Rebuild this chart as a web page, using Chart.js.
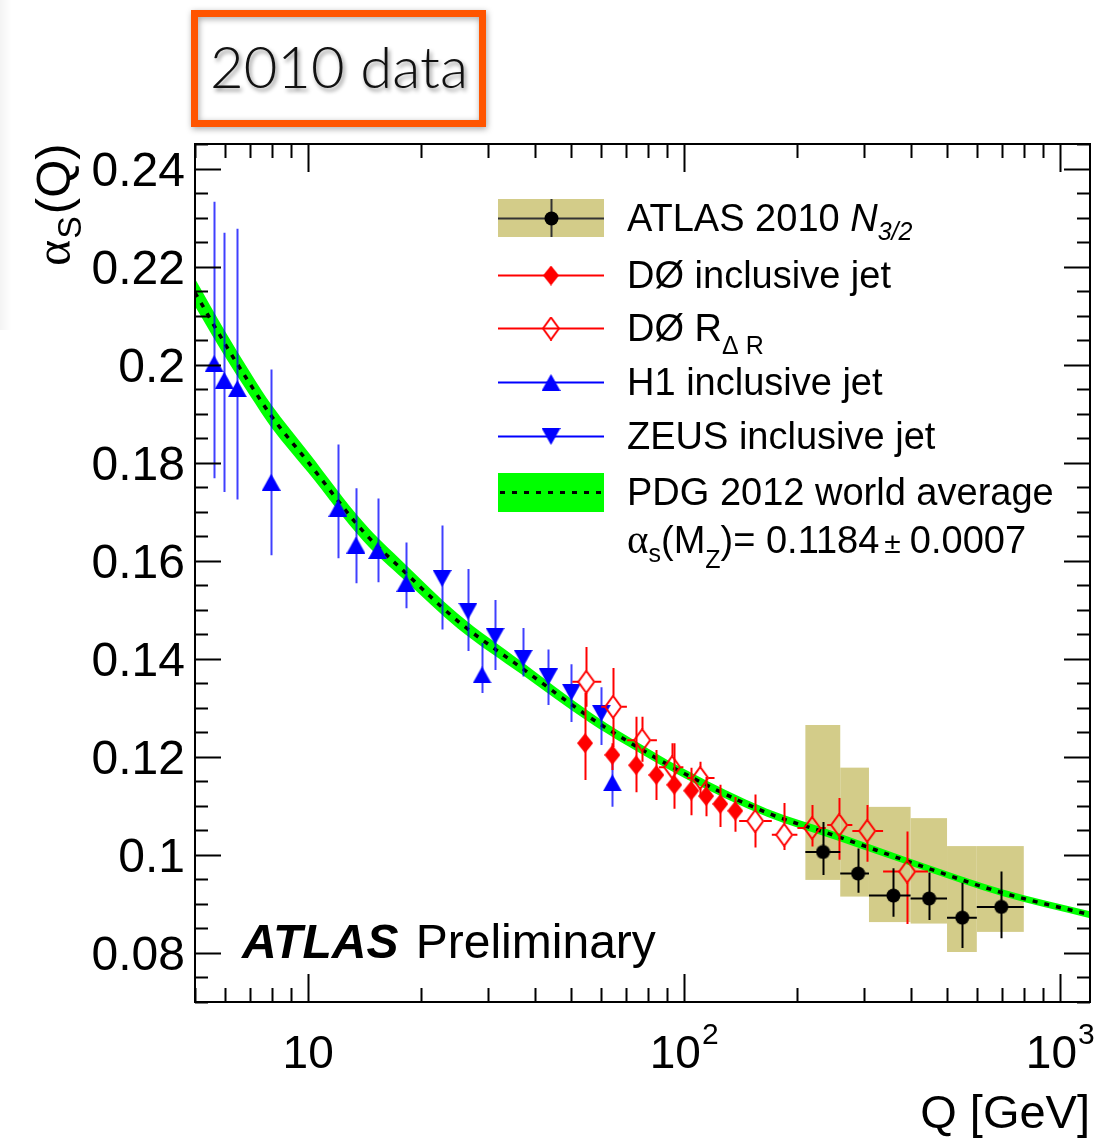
<!DOCTYPE html>
<html>
<head>
<meta charset="utf-8">
<title>alpha_s running</title>
<script src="https://cdn.jsdelivr.net/npm/chart.js@4.4.1/dist/chart.umd.min.js"></script>
<style>
  html, body { margin: 0; padding: 0; background: #fff; }
  canvas { display: block; }
</style>
</head>
<body>
<canvas id="alphas" width="1106" height="1138"></canvas>
<script>
// ATLAS 2010 N3/2 (bins, values, stat and syst extents)
var atlasQ = [234, 290, 360, 448, 549, 697]
var atlasBinLo = [210, 260, 310, 400, 500, 600]
var atlasBinHi = [260, 310, 400, 500, 600, 800]
var atlasAlpha = [0.1006, 0.0962, 0.0917, 0.0911, 0.0872, 0.0894]
var atlasStatHi = [0.1067, 0.1013, 0.0973, 0.0964, 0.0943, 0.0966]
var atlasStatLo = [0.0959, 0.0923, 0.0874, 0.0867, 0.0810, 0.0830]
var atlasSysHi = [0.1265, 0.1178, 0.1098, 0.1075, 0.1018, 0.1018]
var atlasSysLo = [0.0949, 0.0915, 0.0863, 0.0860, 0.0802, 0.0843]

// D0 inclusive jet
var d0Q = [54.5, 64.4, 74.5, 84.3, 94.1, 104.4, 114.4, 124.7, 136.7]
var d0Alpha = [0.1228, 0.1204, 0.1183, 0.1163, 0.1143, 0.1131, 0.1120, 0.1104, 0.1090]
var d0Hi = [0.1330, 0.1228, 0.1282, 0.1214, 0.1228, 0.1178, 0.1159, 0.1143, 0.1118]
var d0Lo = [0.1153, 0.1173, 0.1128, 0.1112, 0.1094, 0.1081, 0.1079, 0.1057, 0.1047]

// D0 R_deltaR
var d0rQ = [54.9, 64.7, 77.3, 92.9, 110.3, 154.5, 184.5, 218.9, 258.3, 306.7, 391.7]
var d0rQLo = [50.4, 60.2, 70.4, 85.7, 101.8, 140, 171, 200, 240, 280, 338]
var d0rQHi = [60.2, 70.4, 84.6, 99.5, 120.4, 171, 200, 238, 280, 338, 445]
var d0rAlpha = [0.1353, 0.1302, 0.1234, 0.1179, 0.1157, 0.1069, 0.1041, 0.1055, 0.1061, 0.1049, 0.0966]
var d0rHi = [0.1424, 0.1381, 0.1282, 0.1228, 0.1190, 0.1123, 0.1106, 0.1102, 0.1116, 0.1102, 0.1048]
var d0rLo = [0.1302, 0.1220, 0.1190, 0.1132, 0.1120, 0.1015, 0.1010, 0.1017, 0.0990, 0.0986, 0.0859]

// H1 inclusive jet
var h1Q = [5.62, 5.98, 6.48, 7.97, 12.0, 13.4, 15.3, 18.2, 29.0, 64.4]
var h1Alpha = [0.2002, 0.1968, 0.1951, 0.1760, 0.1707, 0.1632, 0.1621, 0.1554, 0.1367, 0.1147]
var h1Hi = [0.2332, 0.2269, 0.2277, 0.1990, 0.1837, 0.1748, 0.1727, 0.1637, 0.1432, 0.1214]
var h1Lo = [0.1768, 0.1740, 0.1725, 0.1611, 0.1605, 0.1554, 0.1556, 0.1503, 0.1330, 0.1098]

// ZEUS inclusive jet
var zeusQ = [22.7, 26.6, 31.4, 37.3, 43.5, 50.1, 60.2]
var zeusAlpha = [0.1564, 0.1497, 0.1446, 0.1401, 0.1363, 0.1332, 0.1289]
var zeusHi = [0.1672, 0.1583, 0.1520, 0.1463, 0.1419, 0.1389, 0.1342]
var zeusLo = [0.1460, 0.1416, 0.1377, 0.1364, 0.1306, 0.1271, 0.1224]

// PDG 2012 world average, central curve and band half-width
var pdgQ = [5, 6, 7, 8, 10, 14, 18, 25, 37, 56, 70, 100, 166, 250, 440, 700, 1200]
var pdgAlpha = [0.2147, 0.2043, 0.1961, 0.1894, 0.1801, 0.1660, 0.1578, 0.1477, 0.1381,
                0.1281, 0.1234, 0.1166, 0.1086, 0.1040, 0.0974, 0.0923, 0.0878]
var pdgErr = [0.0028, 0.0026, 0.0024, 0.0023, 0.0021, 0.0019, 0.0017, 0.0015, 0.0013,
              0.0011, 0.0010, 0.0009, 0.0008, 0.0008, 0.0007, 0.0007, 0.0007]

var yMajor = [0.08, 0.1, 0.12, 0.14, 0.16, 0.18, 0.2, 0.22, 0.24]
var yLabels = ['0.08', '0.1', '0.12', '0.14', '0.16', '0.18', '0.2', '0.22', '0.24']
var xMajor = [10, 100, 1000]
var xLabelBase = ['10', '10', '10']
var xLabelExp = ['', '2', '3']

var SANS = '"Liberation Sans", Arial, sans-serif'
var SERIF = '"Liberation Serif", "Times New Roman", serif'
var TAN = '#d3cc89'
var GREEN = '#00ff00'
var RED = '#ff0000'
var BLUE = '#0000ff'

function pts(xs, ys) {
    return xs.map(function (x, i) { return {x: x, y: ys[i]} })
}

function marker(w, h, paint) {
    var c = document.createElement('canvas')
    c.width = w
    c.height = h
    paint(c.getContext('2d'), w, h)
    return c
}

var mkDot = marker(15, 15, function (g) {
    g.fillStyle = '#000'
    g.beginPath(); g.arc(7.5, 7.5, 7, 0, Math.PI * 2); g.fill()
})
var mkDiamond = marker(16, 20, function (g, w, h) {
    g.fillStyle = RED
    g.beginPath(); g.moveTo(w / 2, 0); g.lineTo(w, h / 2); g.lineTo(w / 2, h); g.lineTo(0, h / 2); g.closePath(); g.fill()
})
var mkDiamondOpen = marker(18, 24, function (g, w, h) {
    g.strokeStyle = RED
    g.lineWidth = 2
    g.beginPath(); g.moveTo(w / 2, 1); g.lineTo(w - 1, h / 2); g.lineTo(w / 2, h - 1); g.lineTo(1, h / 2); g.closePath(); g.stroke()
})
var mkTriUp = marker(19, 17, function (g, w, h) {
    g.fillStyle = BLUE
    g.beginPath(); g.moveTo(w / 2, 0); g.lineTo(w, h); g.lineTo(0, h); g.closePath(); g.fill()
})
var mkTriDown = marker(19, 17, function (g, w, h) {
    g.fillStyle = BLUE
    g.beginPath(); g.moveTo(0, 0); g.lineTo(w, 0); g.lineTo(w / 2, h); g.closePath(); g.fill()
})

// error bars for each marker dataset, keyed by dataset index
var bars = [
    {q: atlasQ, hi: atlasStatHi, lo: atlasStatLo, qlo: atlasBinLo, qhi: atlasBinHi, color: '#000', gap: 0},
    {q: d0Q, hi: d0Hi, lo: d0Lo, color: RED, gap: 0},
    {q: d0rQ, hi: d0rHi, lo: d0rLo, qlo: d0rQLo, qhi: d0rQHi, color: RED, gap: 11, gapX: 8},
    {q: h1Q, hi: h1Hi, lo: h1Lo, color: 'rgba(0,0,255,0.75)', gap: 0},
    {q: zeusQ, hi: zeusHi, lo: zeusLo, color: 'rgba(0,0,255,0.75)', gap: 0}
]
var dataY = [atlasAlpha, d0Alpha, d0rAlpha, h1Alpha, zeusAlpha]

// draw a run of text pieces: [text, font, dy, extra spacing]
function withSub(ctx, parts, x, y) {
    parts.forEach(function (p) {
        ctx.font = p[1]
        ctx.fillText(p[0], x, y + (p[2] || 0))
        x += ctx.measureText(p[0]).width + (p[3] || 0)
    })
    return x
}

var alphaPlot = {
    id: 'alphaPlot',
    beforeDraw: function (chart) {
        // faint shadow strip on the left page edge
        var ctx = chart.ctx
        var g = ctx.createLinearGradient(0, 0, 12, 0)
        g.addColorStop(0, 'rgba(0,0,0,0.045)')
        g.addColorStop(1, 'rgba(0,0,0,0)')
        ctx.save()
        ctx.fillStyle = g
        ctx.fillRect(0, 0, 12, 330)
        ctx.restore()
    },
    beforeDatasetsDraw: function (chart) {
        var ctx = chart.ctx, xs = chart.scales.x, ys = chart.scales.y
        ctx.save()
        ctx.fillStyle = TAN
        atlasQ.forEach(function (q, i) {
            var x0 = xs.getPixelForValue(atlasBinLo[i]), x1 = xs.getPixelForValue(atlasBinHi[i])
            var y0 = ys.getPixelForValue(atlasSysHi[i]), y1 = ys.getPixelForValue(atlasSysLo[i])
            ctx.fillRect(x0, y0, x1 - x0, y1 - y0)
        })
        ctx.restore()
    },
    beforeDatasetDraw: function (chart, args) {
        var b = bars[args.index]
        if (!b) return
        var ctx = chart.ctx, xs = chart.scales.x, ys = chart.scales.y
        ctx.save()
        ctx.strokeStyle = b.color
        ctx.lineWidth = 2
        ctx.beginPath()
        b.q.forEach(function (q, i) {
            var x = Math.round(xs.getPixelForValue(q)) + 0.5
            var y = ys.getPixelForValue(dataY[args.index][i])
            var yt = ys.getPixelForValue(b.hi[i]), yb = ys.getPixelForValue(b.lo[i])
            ctx.moveTo(x, yt); ctx.lineTo(x, y - b.gap)
            ctx.moveTo(x, y + b.gap); ctx.lineTo(x, yb)
            if (b.qlo) {
                var xl = xs.getPixelForValue(b.qlo[i]), xr = xs.getPixelForValue(b.qhi[i])
                var g = b.gapX || 0
                ctx.moveTo(xl, y); ctx.lineTo(x - g, y)
                ctx.moveTo(x + g, y); ctx.lineTo(xr, y)
            }
        })
        ctx.stroke()
        ctx.restore()
    },
    afterDraw: function (chart) {
        var ctx = chart.ctx, xs = chart.scales.x, ys = chart.scales.y, a = chart.chartArea
        ctx.save()

        // frame and inward ticks on all four sides
        ctx.strokeStyle = '#000'
        ctx.lineWidth = 2
        ctx.strokeRect(a.left, a.top, a.right - a.left, a.bottom - a.top)
        ctx.beginPath()
        for (var v = 0.07; v <= 0.2451; v += 0.005) {
            var yy = Math.round(ys.getPixelForValue(v)) + 0.5
            var major = Math.abs(Math.round(v * 50) - v * 50) < 1e-6
            var len = major ? 26 : 13
            ctx.moveTo(a.left, yy); ctx.lineTo(a.left + len, yy)
            ctx.moveTo(a.right, yy); ctx.lineTo(a.right - len, yy)
        }
        for (var dec = 1; dec <= 1000; dec *= 10) {
            for (var k = 1; k <= 9; k++) {
                var q = k * dec
                if (q < 5 || q > 1200) continue
                var xx = Math.round(xs.getPixelForValue(q)) + 0.5
                var l = k === 1 ? 28 : 14
                ctx.moveTo(xx, a.bottom); ctx.lineTo(xx, a.bottom - l)
                ctx.moveTo(xx, a.top); ctx.lineTo(xx, a.top + l)
            }
        }
        ctx.stroke()

        // tick labels
        ctx.fillStyle = '#000'
        ctx.font = '48px ' + SANS
        ctx.textAlign = 'right'
        yMajor.forEach(function (v, i) {
            ctx.fillText(yLabels[i], 185, ys.getPixelForValue(v) + 17)
        })
        ctx.textAlign = 'left'
        xMajor.forEach(function (v, i) {
            ctx.font = '46px ' + SANS
            var wb = ctx.measureText(xLabelBase[i]).width
            ctx.font = '30px ' + SANS
            var we = xLabelExp[i] ? ctx.measureText(xLabelExp[i]).width + 1 : 0
            var x0 = xs.getPixelForValue(v) - (wb + we) / 2
            ctx.font = '46px ' + SANS
            ctx.fillText(xLabelBase[i], x0, 1068)
            if (xLabelExp[i]) {
                ctx.font = '30px ' + SANS
                ctx.fillText(xLabelExp[i], x0 + wb + 1, 1044)
            }
        })

        // axis titles
        ctx.textAlign = 'right'
        ctx.font = '47px ' + SANS
        ctx.fillText('Q [GeV]', 1090, 1128)
        ctx.textAlign = 'left'
        ctx.save()
        ctx.translate(70, 266)
        ctx.rotate(-Math.PI / 2)
        withSub(ctx, [
            ['\u03b1', '50px ' + SERIF, 0, 1],
            ['S', '34px ' + SANS, 11, 2],
            ['(Q)', '49px ' + SANS, 0]
        ], 0, 0)
        ctx.restore()

        // ATLAS Preliminary
        ctx.font = 'italic bold 48px ' + SANS
        ctx.fillText('ATLAS', 242, 958)
        var wA = ctx.measureText('ATLAS ').width
        ctx.font = '48px ' + SANS
        ctx.fillText('Preliminary', 242 + wA + 4, 958)

        // legend
        var lx0 = 498, lx1 = 604, lc = 551, tx = 627
        ctx.fillStyle = TAN
        ctx.fillRect(lx0, 199, lx1 - lx0, 38)
        ctx.fillStyle = GREEN
        ctx.fillRect(lx0, 473, lx1 - lx0, 39)
        ctx.lineWidth = 2
        ctx.strokeStyle = '#333'
        ctx.beginPath()
        ctx.moveTo(lx0, 218.5); ctx.lineTo(lx1, 218.5)
        ctx.moveTo(lc + 0.5, 199); ctx.lineTo(lc + 0.5, 237)
        ctx.stroke()
        ctx.drawImage(mkDot, lc - 7, 211)
        var rows = [[275, RED, mkDiamond], [328, RED, mkDiamondOpen], [382, BLUE, mkTriUp], [436, BLUE, mkTriDown]]
        rows.forEach(function (r) {
            ctx.strokeStyle = r[1]
            ctx.beginPath(); ctx.moveTo(lx0, r[0] + 0.5); ctx.lineTo(lx1, r[0] + 0.5); ctx.stroke()
            ctx.drawImage(r[2], lc - r[2].width / 2, r[0] - r[2].height / 2 + 0.5)
        })
        ctx.strokeStyle = '#000'
        ctx.lineWidth = 3
        ctx.setLineDash([5, 7])
        ctx.beginPath(); ctx.moveTo(lx0 + 2, 492.5); ctx.lineTo(lx1, 492.5); ctx.stroke()
        ctx.setLineDash([])

        ctx.fillStyle = '#000'
        var LF = '38px ' + SANS, LI = 'italic 38px ' + SANS, LS = '25px ' + SANS
        withSub(ctx, [['ATLAS 2010 ', LF], ['N', LI], ['3/2', 'italic 25px ' + SANS, 9]], tx, 231)
        withSub(ctx, [['D\u00d8 inclusive jet', LF]], tx, 288)
        withSub(ctx, [['D\u00d8 R', LF], ['\u0394 R', LS, 13]], tx, 341)
        withSub(ctx, [['H1 inclusive jet', LF]], tx, 395)
        withSub(ctx, [['ZEUS inclusive jet', LF]], tx, 449)
        withSub(ctx, [['PDG 2012 world average', LF]], tx, 505)
        withSub(ctx, [
            ['\u03b1', '41px ' + SERIF],
            ['s', LS, 9],
            ['(M', LF],
            ['Z', LS, 15],
            [')= 0.1184', LF, 0, 5],
            ['\u00b1', '30px ' + SANS, 0, 9],
            ['0.0007', LF]
        ], tx, 553)

        // "2010 data" tag
        ctx.save()
        ctx.shadowColor = 'rgba(0,0,0,0.35)'
        ctx.shadowBlur = 6
        ctx.shadowOffsetX = 1
        ctx.shadowOffsetY = 2
        ctx.strokeStyle = '#ff5500'
        ctx.lineWidth = 7
        ctx.strokeRect(194.5, 13.5, 288, 110)
        ctx.restore()
        ctx.save()
        ctx.shadowColor = 'rgba(0,0,0,0.45)'
        ctx.shadowBlur = 4
        ctx.shadowOffsetX = 2
        ctx.shadowOffsetY = 3
        ctx.fillStyle = '#111'
        ctx.font = '300 58px Lato, "Open Sans", sans-serif'
        ctx.textAlign = 'center'
        ctx.fillText('2010 data', 339, 88)
        ctx.restore()

        ctx.restore()
    }
}

var ctx = document.getElementById('alphas').getContext('2d')

var chart = new Chart(ctx, {
    type: 'scatter',
    data: {
        datasets: [
            {label: 'ATLAS 2010', data: pts(atlasQ, atlasAlpha), pointStyle: mkDot},
            {label: 'D0 inclusive jet', data: pts(d0Q, d0Alpha), pointStyle: mkDiamond},
            {label: 'D0 R', data: pts(d0rQ, d0rAlpha), pointStyle: mkDiamondOpen},
            {label: 'H1 inclusive jet', data: pts(h1Q, h1Alpha), pointStyle: mkTriUp},
            {label: 'ZEUS inclusive jet', data: pts(zeusQ, zeusAlpha), pointStyle: mkTriDown},
            {
                label: 'PDG 2012', type: 'line', data: pts(pdgQ, pdgAlpha),
                borderColor: '#000', borderWidth: 3.5, borderDash: [5, 7],
                pointRadius: 0, cubicInterpolationMode: 'monotone', fill: false
            },
            {
                label: 'band up', type: 'line',
                data: pts(pdgQ, pdgAlpha.map(function (v, i) { return v + pdgErr[i] })),
                borderWidth: 0, borderColor: 'rgba(0,0,0,0)', backgroundColor: GREEN,
                pointRadius: 0, cubicInterpolationMode: 'monotone', fill: '+1'
            },
            {
                label: 'band down', type: 'line',
                data: pts(pdgQ, pdgAlpha.map(function (v, i) { return v - pdgErr[i] })),
                borderWidth: 0, borderColor: 'rgba(0,0,0,0)',
                pointRadius: 0, cubicInterpolationMode: 'monotone', fill: false
            }
        ]
    },
    options: {
        responsive: false,
        animation: false,
        devicePixelRatio: 1,
        layout: {padding: {left: 195, right: 16, top: 144, bottom: 136}},
        scales: {
            x: {type: 'logarithmic', min: 5, max: 1200, display: false},
            y: {type: 'linear', min: 0.07, max: 0.245, display: false}
        },
        plugins: {
            legend: {display: false},
            tooltip: {enabled: false}
        },
        elements: {point: {radius: 7}}
    },
    plugins: [alphaPlot]
})
</script>
</body>
</html>
